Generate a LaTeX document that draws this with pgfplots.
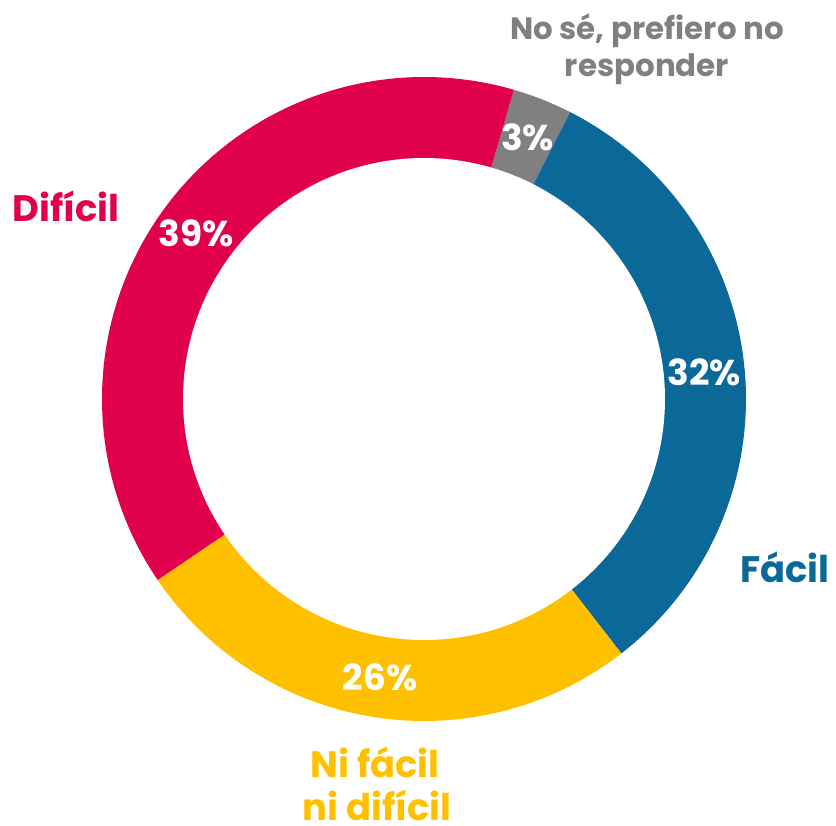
\documentclass[border=0pt]{standalone}
\usepackage{pgfplots}
\pgfplotsset{compat=1.18}
\usepackage{fontspec}
\setmainfont{Poppins}
\definecolor{cRed}{RGB}{224,0,77}
\definecolor{cBlue}{RGB}{11,105,154}
\definecolor{cYellow}{RGB}{255,192,0}
\definecolor{cGray}{RGB}{128,128,128}
\begin{document}
\begin{tikzpicture}
% data (percent), clockwise from the top
\def\vGray{3}\def\vBlue{32}\def\vYellow{26}\def\vRed{39}
\pgfmathsetmacro\aZ{73.8}
\pgfmathsetmacro\aA{\aZ-3.6*\vGray}
\pgfmathsetmacro\aB{\aA-3.6*\vBlue}
\pgfmathsetmacro\aC{\aB-3.6*\vYellow}
\pgfmathsetmacro\aD{\aC-3.6*\vRed}
\def\cx{424}\def\cy{427}\def\Ro{322}\def\Ri{241}\def\Rm{281.5}
\pgfmathsetmacro\gx{\cx+\Rm*cos((\aZ+\aA)/2)}\pgfmathsetmacro\gy{\cy+\Rm*sin((\aZ+\aA)/2)}
\pgfmathsetmacro\bx{\cx+\Rm*cos((\aA+\aB)/2)}\pgfmathsetmacro\by{\cy+\Rm*sin((\aA+\aB)/2)}
\pgfmathsetmacro\yx{\cx+\Rm*cos((\aB+\aC)/2)}\pgfmathsetmacro\yy{\cy+\Rm*sin((\aB+\aC)/2)}
\pgfmathsetmacro\rx{\cx+\Rm*cos((\aC+\aD)/2)}\pgfmathsetmacro\ry{\cy+\Rm*sin((\aC+\aD)/2)}
\begin{axis}[x=1bp,y=1bp,xmin=0,xmax=836,ymin=0,ymax=826,hide axis,clip=false]
\path (axis cs:0,0) rectangle (axis cs:836,826);
\addplot[fill=cGray,draw=none,domain=\aA:\aZ,samples=20] ({\cx+\Ro*cos(x)},{\cy+\Ro*sin(x)}) -- (axis cs:\cx,\cy) -- cycle;
\addplot[fill=cBlue,draw=none,domain=\aB:\aA,samples=120] ({\cx+\Ro*cos(x)},{\cy+\Ro*sin(x)}) -- (axis cs:\cx,\cy) -- cycle;
\addplot[fill=cYellow,draw=none,domain=\aC:\aB,samples=100] ({\cx+\Ro*cos(x)},{\cy+\Ro*sin(x)}) -- (axis cs:\cx,\cy) -- cycle;
\addplot[fill=cRed,draw=none,domain=\aD:\aC,samples=140] ({\cx+\Ro*cos(x)},{\cy+\Ro*sin(x)}) -- (axis cs:\cx,\cy) -- cycle;
\addplot[fill=white,draw=none,domain=0:360,samples=241] ({\cx+\Ri*cos(x)},{\cy+\Ri*sin(x)}) -- cycle;
\tikzset{pct/.style={text=white,inner sep=0pt,font=\fontsize{36}{40}\selectfont\bfseries}}
\node[pct] at (axis cs:\gx,\gy) {\vGray\%};
\node[pct] at (axis cs:\bx,\by) {\vBlue\%};
\node[pct] at (axis cs:\yx,\yy) {\vYellow\%};
\node[pct] at (axis cs:\rx,\ry) {\vRed\%};
\tikzset{lab/.style={anchor=base,inner sep=0pt,font=\fontsize{37}{40}\selectfont\bfseries}}
\node[lab,text=cGray,font=\fontsize{31}{37}\selectfont\bfseries] at (axis cs:647,786) {No sé, prefiero no};
\node[lab,text=cGray,font=\fontsize{31}{37}\selectfont\bfseries] at (axis cs:647,749) {responder};
\node[lab,text=cRed] at (axis cs:66,604) {Difícil};
\node[lab,text=cBlue] at (axis cs:785,243) {Fácil};
\node[lab,text=cYellow] at (axis cs:375,48) {Ni fácil};
\node[lab,text=cYellow] at (axis cs:377,5) {ni difícil};
\end{axis}
\end{tikzpicture}
\end{document}
